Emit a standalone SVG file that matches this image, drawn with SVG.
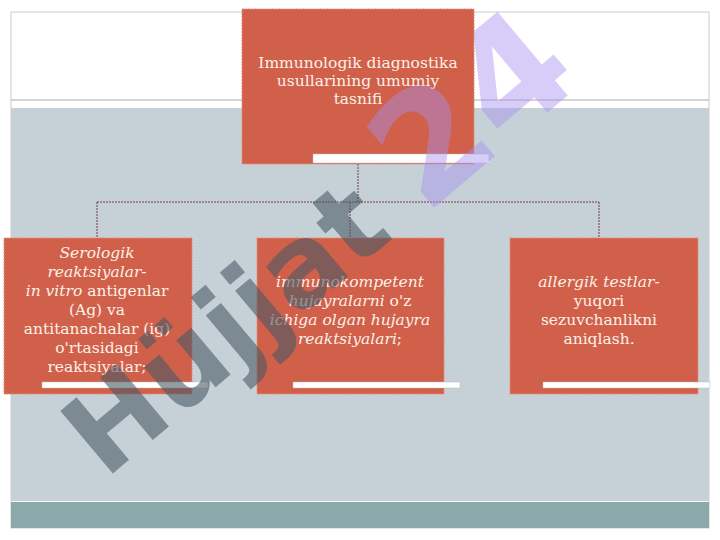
<svg xmlns="http://www.w3.org/2000/svg" width="720" height="540" viewBox="0 0 720 540">
<style>
.box{fill:#d0604a;stroke:#e88a75;stroke-width:1;stroke-dasharray:2 1}
.bar{fill:#ffffff;stroke:#bbbbbb;stroke-width:0.5}
.t{font-family:"DejaVu Serif","Liberation Serif",serif;font-size:15.5px;fill:#fdf0e8;text-anchor:middle}
.i{font-style:italic}
.c{stroke:#7a3a44;stroke-width:1;fill:none;stroke-dasharray:2 1}
</style>
<rect x="0" y="0" width="720" height="540" fill="#ffffff"/>
<rect x="11" y="12" width="698" height="516" fill="none" stroke="#cccccc"/>
<line x1="11" y1="100" x2="709" y2="100" stroke="#aaaaaa"/>
<rect x="11" y="108" width="698" height="393" fill="#c5d1d6"/>
<rect x="11" y="502" width="698" height="26" fill="#8ca9ab"/>
<g id="connectors">
<path class="c" d="M358 164V202"/>
<path class="c" d="M97 202H599M97 202V238M350 202V238M599 202V238"/>
</g>
<g id="root">
<rect class="box" x="242" y="9" width="232" height="155"/>
<rect class="bar" x="313" y="154" width="176" height="9"/>
<text class="t" x="358" y="68">Immunologik diagnostika</text>
<text class="t" x="358" y="86">usullarining umumiy</text>
<text class="t" x="358" y="104">tasnifi</text>
</g>
<g id="n1">
<rect class="box" x="4" y="238" width="188" height="156"/>
<rect class="bar" x="42" y="382" width="166" height="6"/>
<text class="t" x="97" y="258"><tspan class="i">Serologik</tspan></text>
<text class="t" x="97" y="277"><tspan class="i">reaktsiyalar-</tspan></text>
<text class="t" x="97" y="296"><tspan class="i">in vitro</tspan> antigenlar</text>
<text class="t" x="97" y="315">(Ag) va</text>
<text class="t" x="97" y="334">antitanachalar (ig)</text>
<text class="t" x="97" y="353">o'rtasidagi</text>
<text class="t" x="97" y="372">reaktsiyalar;</text>
</g>
<g id="n2">
<rect class="box" x="257" y="238" width="187" height="156"/>
<rect class="bar" x="293" y="382" width="167" height="6"/>
<text class="t i" x="350" y="287">immunokompetent</text>
<text class="t" x="350" y="306"><tspan class="i">hujayralarni</tspan> o'z</text>
<text class="t i" x="350" y="325">ichiga olgan hujayra</text>
<text class="t" x="350" y="344"><tspan class="i">reaktsiyalari</tspan>;</text>
</g>
<g id="n3">
<rect class="box" x="510" y="238" width="188" height="156"/>
<rect class="bar" x="543" y="382" width="167" height="6"/>
<text class="t i" x="599" y="287">allergik testlar-</text>
<text class="t" x="599" y="306">yuqori</text>
<text class="t" x="599" y="325">sezuvchanlikni</text>
<text class="t" x="599" y="344">aniqlash.</text>
</g>
<g id="watermark" font-family="DejaVu Sans,sans-serif" font-weight="bold">
<text x="0" y="0" transform="translate(105,480) rotate(-40)" font-size="112" fill="#4a5a66" fill-opacity="0.6">Hüjjat</text>
<text x="0" y="0" transform="translate(425,215) rotate(-40)" font-size="150" fill="#a890f0" fill-opacity="0.45">24</text>
</g>
</svg>
